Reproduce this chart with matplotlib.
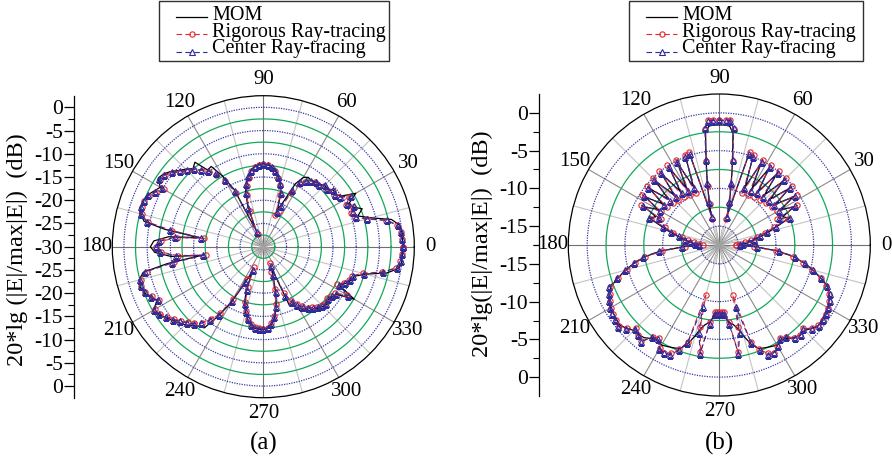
import numpy as np
import matplotlib.pyplot as plt
from matplotlib.lines import Line2D
from matplotlib.patches import Rectangle

plt.rcParams['font.family'] = ['Liberation Serif', 'DejaVu Serif']

W, H = 892, 465

# ---------------- panel (a) data (dB) ----------------
ang_a = [0, 3, 6, 9, 12, 15, 18, 21, 24, 27, 30, 33, 36, 39, 42, 45, 48, 51, 54, 57,
         60, 63, 66, 69, 72, 75, 78, 81, 84, 87, 90, 93, 96, 99, 102, 105, 108, 111, 114, 117,
         120, 123, 126, 129, 132, 135, 138, 141, 144, 147, 150, 153, 156, 159, 162, 165,
         168, 170, 172, 174, 177, 180, 183, 186, 188, 190, 192,
         195, 198, 201, 204, 207, 210, 213, 216, 219, 222, 225, 228, 231, 234, 237, 240,
         243, 246, 249, 252, 255, 258, 261, 264, 267, 270, 273, 276, 279, 282, 285, 288,
         291, 294, 297, 300, 303, 306, 309, 312, 315, 318, 321, 324, 327, 330, 333, 336,
         339, 342, 345, 348, 351, 354, 357]

mom_a = [0.0, 0.0, 0.0, -0.3, -1.8, -6.0, -8.6, -7.2, -9.0, -9.2, -7.0, -10.0, -10.8, -10.6, -11.4, -11.3, -11.9, -12.0, -12.4, -12.2,
         -12.8, -14.8, -19.5, -21.5, -17.6, -15.9, -14.5, -13.4, -12.7, -12.3, -12.2, -12.3, -12.6, -13.3, -14.4, -15.9, -17.6, -20.8, -26.0, -16.2,
         -12.4, -9.4, -9.6, -6.6, -7.4, -6.4, -5.5, -4.3, -3.4, -3.0, -4.4, -3.6, -2.7, -2.3, -2.2, -2.5,
         -3.8, -8.5, -16.0, -9.5, -6.4, -5.7, -6.6, -10.0, -16.5, -9.0, -3.6,
         -2.3, -2.1, -2.5, -3.3, -4.4, -2.6, -3.1, -4.0, -4.8, -5.6, -6.2, -7.2, -8.0, -8.4, -12.2, -16.0,
         -21.0, -24.0, -19.6, -16.8, -15.2, -13.9, -12.9, -12.4, -12.2, -12.1, -12.3, -13.1, -14.5, -16.6, -19.5, -23.0,
         -25.0, -16.0, -16.2, -14.0, -14.2, -13.0, -12.8, -12.2, -11.8, -11.5, -12.0, -11.6, -11.2, -7.4, -11.6, -10.6,
         -9.8, -9.4, -7.2, -2.8, -0.4, 0.0, 0.0]

rig_a = [0.0, -0.1, -0.3, -0.8, -2.9, -7.0, -9.3, -9.8, -8.9, -10.0, -8.6, -10.5, -11.2, -10.8, -11.8, -11.5, -12.3, -12.2, -12.8, -13.4,
         -14.3, -17.0, -21.5, -22.8, -18.2, -16.2, -14.8, -13.6, -12.9, -12.4, -12.3, -12.4, -12.8, -13.6, -14.8, -16.4, -18.4, -21.8, -27.0, -17.0,
         -13.6, -11.5, -10.0, -8.9, -7.8, -6.9, -6.0, -4.8, -3.8, -3.5, -5.2, -4.1, -3.0, -2.6, -2.5, -3.0,
         -4.6, -10.0, -17.2, -11.3, -7.9, -7.0, -8.0, -11.5, -17.6, -10.5, -4.3,
         -2.7, -2.4, -2.8, -3.7, -4.8, -3.0, -3.5, -4.4, -5.2, -6.2, -7.0, -7.8, -9.0, -10.8, -13.0, -17.0,
         -22.3, -25.2, -20.8, -17.5, -15.7, -14.2, -13.1, -12.6, -12.4, -12.3, -12.5, -13.4, -14.9, -17.3, -20.5, -24.3,
         -26.2, -19.2, -17.0, -15.7, -14.7, -13.8, -13.2, -12.6, -12.2, -11.9, -12.4, -12.0, -11.7, -9.2, -12.1, -11.0,
         -10.2, -9.9, -7.8, -3.9, -1.0, -0.4, -0.1]

cen_a = [0.0, -0.1, -0.2, -0.7, -2.7, -6.8, -9.0, -9.4, -8.6, -9.7, -8.3, -10.2, -11.0, -10.6, -11.6, -11.3, -12.1, -12.0, -12.6, -13.1,
         -14.0, -16.3, -20.5, -22.0, -17.8, -16.0, -14.6, -13.5, -12.8, -12.3, -12.2, -12.3, -12.7, -13.4, -14.5, -16.0, -17.8, -21.0, -26.5, -16.5,
         -13.3, -11.2, -9.8, -8.7, -7.6, -6.7, -5.8, -4.6, -3.6, -3.3, -4.9, -3.9, -2.9, -2.5, -2.4, -2.8,
         -4.3, -9.5, -16.5, -10.8, -7.6, -6.8, -7.8, -11.0, -17.0, -10.0, -4.0,
         -2.5, -2.3, -2.7, -3.5, -4.6, -2.8, -3.3, -4.2, -5.0, -6.0, -6.8, -7.6, -8.8, -10.5, -12.6, -16.5,
         -21.5, -24.5, -20.0, -17.0, -15.4, -14.0, -13.0, -12.5, -12.3, -12.2, -12.4, -13.2, -14.6, -16.8, -19.8, -23.5,
         -25.5, -18.5, -16.6, -15.4, -14.5, -13.6, -13.0, -12.4, -12.0, -11.7, -12.2, -11.8, -11.4, -8.9, -11.8, -10.8,
         -10.0, -9.6, -7.5, -3.6, -0.9, -0.3, -0.1]

# ---------------- panel (b) data ----------------
ang_b = [0, 3, 6, 9, 12, 15, 18, 21, 24, 27, 30, 33, 36, 39, 42, 45, 48, 51, 54, 57, 60, 63, 66, 69, 72, 75,
         77, 79, 81, 83, 85, 87, 90, 93, 95, 97, 99, 101, 103,
         105, 108, 111, 114, 117, 120, 123, 126, 129, 132, 135, 138, 141, 144, 147, 150, 153, 156, 159, 162,
         165, 168, 171, 174, 177, 180,
         183, 186, 189, 192, 195, 198, 201, 204, 207, 210, 213, 216, 219, 222, 225, 228, 231, 234, 237, 240,
         243, 246, 249, 252, 255, 257, 260, 263, 266, 268, 270, 272, 274, 277, 280, 283,
         285, 288, 291, 294, 297, 300, 303, 306, 309, 312, 315, 318, 321, 324, 327, 330, 333, 336, 339, 342,
         345, 348, 351, 354, 357]

mom_b = [-14.6, -14.1, -13.4, -12.7, -11.8, -10.7, -9.4, -7.6, -8.3, -6.4, -8.1, -5.9, -8.2, -5.7, -8.4, -5.6, -8.5, -5.5, -8.7, -5.5, -8.8, -5.4, -9.0, -5.3, -5.2, -13.2,
         -11.4, -9.2, -6.4, -2.6, -1.7, -1.6, -1.6, -1.6, -1.7, -2.6, -6.4, -9.2, -11.4,
         -13.2, -5.2, -5.3, -9.0, -5.4, -8.8, -5.5, -8.7, -5.5, -8.5, -5.6, -8.4, -5.7, -8.2, -5.9, -8.1, -6.4, -8.3, -7.6, -9.4,
         -10.7, -11.8, -12.7, -13.4, -14.1, -14.6,
         -12.6, -9.6, -7.5, -6.0, -4.7, -3.4, -2.1, -1.6, -1.2, -0.9, -0.8, -0.7, -0.6, -1.0, -1.5, -1.5, -1.7, -2.2, -2.5, -2.2,
         -2.4, -2.6, -2.8, -3.6, -5.0, -6.0, -6.8, -7.2, -8.2, -7.9, -7.8, -7.9, -8.2, -7.2, -6.8, -6.0,
         -5.0, -3.6, -2.8, -2.6, -2.4, -2.2, -2.5, -2.2, -1.7, -1.5, -1.5, -1.0, -0.6, -0.7, -0.8, -0.9, -1.2, -1.6, -2.1, -3.4,
         -4.7, -6.0, -7.5, -9.6, -12.6]

rig_b = [-15.3, -14.8, -14.1, -13.3, -12.4, -11.2, -9.9, -7.8, -9.1, -5.9, -8.6, -5.3, -8.9, -5.1, -9.2, -5.0, -9.4, -4.9, -9.6, -4.9, -9.8, -4.8, -10.0, -4.7, -4.5, -14.0,
         -11.9, -9.5, -6.3, -2.0, -0.9, -0.9, -0.9, -0.9, -0.9, -2.0, -6.3, -9.5, -11.9,
         -14.0, -4.5, -4.7, -10.0, -4.8, -9.8, -4.9, -9.6, -4.9, -9.4, -5.0, -9.2, -5.1, -8.9, -5.3, -8.6, -5.9, -9.1, -7.8, -9.9,
         -11.2, -12.4, -13.3, -14.1, -14.8, -15.3,
         -12.9, -9.9, -7.6, -6.1, -4.8, -3.4, -2.0, -1.6, -1.2, -0.9, -0.7, -0.6, -0.4, -1.0, -1.9, -1.5, -1.1, -2.5, -2.8, -1.8,
         -1.5, -1.8, -2.7, -4.0, -10.6, -6.3, -3.1, -7.2, -8.6, -8.6, -8.6, -8.6, -8.6, -7.2, -3.1, -6.3,
         -10.6, -4.0, -2.7, -1.8, -1.5, -2.1, -2.8, -2.5, -1.7, -1.5, -1.9, -1.0, -0.6, -0.6, -0.7, -0.9, -1.2, -1.6, -2.3, -3.4,
         -4.8, -6.1, -7.6, -9.9, -12.9]

cen_b = [-14.8, -14.3, -13.6, -12.9, -12.0, -10.9, -9.6, -7.5, -8.8, -6.2, -8.4, -5.6, -8.5, -5.4, -8.7, -5.3, -8.9, -5.2, -9.0, -5.2, -9.2, -5.1, -9.3, -5.0, -4.8, -13.7,
         -11.6, -9.2, -6.1, -1.9, -1.0, -1.0, -1.0, -1.0, -1.0, -1.9, -6.1, -9.2, -11.6,
         -13.7, -4.8, -5.0, -9.3, -5.1, -9.2, -5.2, -9.0, -5.2, -8.9, -5.3, -8.7, -5.4, -8.5, -5.6, -8.4, -6.2, -8.8, -7.5, -9.6,
         -10.9, -12.0, -12.9, -13.6, -14.3, -14.8,
         -12.5, -9.5, -7.3, -5.9, -4.6, -3.3, -1.8, -1.5, -1.1, -0.8, -0.6, -0.5, -0.3, -0.9, -1.8, -1.4, -1.0, -2.4, -2.7, -1.6,
         -1.4, -1.6, -2.6, -3.8, -9.0, -5.5, -2.9, -7.0, -8.4, -8.4, -8.4, -8.4, -8.4, -7.0, -2.9, -5.5,
         -9.0, -3.8, -2.6, -1.6, -1.4, -2.0, -2.7, -2.4, -1.6, -1.4, -1.8, -0.9, -0.5, -0.5, -0.6, -0.8, -1.1, -1.5, -2.2, -3.3,
         -4.6, -5.9, -7.3, -9.5, -12.5]

legend_labels = ['MOM', 'Rigorous Ray-tracing', 'Center Ray-tracing']
theta_labels = ['0', '30', '60', '90', '120', '150', '180', '210', '240', '270', '300', '330']

C_MOM = 'black'
C_RIG = '#e62630'
C_CEN = '#2c2c9e'
C_GREEN = '#12a85a'
C_RING = '#3a3aa8'

fig = plt.figure(figsize=(W / 100, H / 100), dpi=100)


def fx(px):
    return px / W


def fy(py):
    return 1 - py / H


def closed(a):
    return np.append(a, a[0])


def draw_panel(cx, cy, rad, rmin, rmax, ang, mom, rig, cen, axis_x, tick_vals, center_label,
               ylabel, ylabel_xy, caption, leg_x0, leg_x1):
    # polar plot
    ax = fig.add_axes([fx(cx - rad), fy(cy + rad), 2 * rad / W, 2 * rad / H], projection='polar')
    ax.set_ylim(rmin, rmax)
    ax.grid(False)
    tt = np.linspace(0, 2 * np.pi, 721)
    r = rmin + 2.5
    while r < rmax - 0.1:
        if abs(r % 5) < 1e-6:
            ax.plot(tt, np.full_like(tt, r), color=C_RING, ls=(0, (1, 1)), lw=0.9, zorder=1)
        else:
            ax.plot(tt, np.full_like(tt, r), color=C_GREEN, ls='-', lw=0.9, zorder=1)
        r += 2.5
    for a in range(0, 360, 15):
        col = '#707070' if a % 90 == 0 else ('#8a8a8a' if a % 30 == 0 else '#c4c4c4')
        ax.plot([np.radians(a)] * 2, [rmin, rmax], color=col, lw=0.8, zorder=0.5)
    # small star of spokes round the centre
    for a in range(0, 360, 10):
        if a % 15:
            ax.plot([np.radians(a)] * 2, [rmin, rmin + 2.5], color='#a0a0a0', lw=0.5, zorder=0.5)

    th = np.radians(closed(ang))
    ax.plot(th, closed(mom), color=C_MOM, lw=0.9, zorder=3)
    ax.plot(th, closed(rig), color=C_RIG, lw=0.8, ls=(0, (5, 3)), marker='o', ms=3.8,
            mfc='none', mec=C_RIG, mew=0.8, zorder=4)
    ax.plot(th, closed(cen), color=C_CEN, lw=0.8, ls=(0, (5, 3)), marker='^', ms=3.8,
            mfc='none', mec=C_CEN, mew=0.8, zorder=5)

    ax.set_yticks([])
    ax.set_xticks(np.radians(np.arange(0, 360, 30)))
    ax.set_xticklabels(theta_labels, fontsize=15)
    ax.tick_params(axis='x', pad=1)
    ax.spines['polar'].set_linewidth(0.9)

    # linear dB scale on the left
    span = rmax - rmin
    sax = fig.add_axes([fx(axis_x), fy(cy + rad), 0.02, 2 * rad / H])
    sax.set_ylim(-span, span)
    sax.set_xticks([])
    for s in ['top', 'right', 'bottom']:
        sax.spines[s].set_visible(False)
    sax.spines['left'].set_linewidth(0.9)
    sax.patch.set_visible(False)
    pos, lab = [], []
    for v in tick_vals:
        pos += [v - rmin, -(v - rmin)]
        lab += [str(v), str(v)]
    if center_label:
        pos.append(0)
        lab.append(center_label)
    sax.set_yticks(pos)
    sax.set_yticklabels(lab, fontsize=15.5)
    minor = []
    d = 2.5 if center_label else 0.0
    while d < span - 0.1:
        if abs((d + rmin) % 5) > 1e-6:
            minor += [d, -d]
        d += 2.5
    sax.set_yticks(minor, minor=True)
    sax.tick_params(axis='y', which='major', length=7, width=0.9, pad=1)
    sax.tick_params(axis='y', which='minor', length=4, width=0.8)

    fig.text(fx(ylabel_xy[0]), fy(ylabel_xy[1]), ylabel, rotation=90, ha='center', va='center',
             fontsize=17.5)
    fig.text(fx(cx), fy(443), caption, ha='center', va='center', fontsize=18)

    # legend box
    fig.add_artist(Rectangle((fx(leg_x0), fy(61)), fx(leg_x1) - fx(leg_x0), fy(1) - fy(61),
                             transform=fig.transFigure, fill=False, edgecolor='#303030', lw=1.0))
    rows = [(17, 20), (34.5, 37), (52, 53.5)]
    styles = [dict(color=C_MOM, lw=0.9),
              dict(color=C_RIG, lw=0.8, ls=(0, (5, 3)), marker='o', ms=3.8, mfc='none', mec=C_RIG, mew=0.8),
              dict(color=C_CEN, lw=0.8, ls=(0, (5, 3)), marker='^', ms=3.8, mfc='none', mec=C_CEN, mew=0.8)]
    for (yl, yb), st, txt in zip(rows, styles, legend_labels):
        xa, xb = leg_x0 + 17, leg_x0 + 48
        fig.add_artist(Line2D([fx(xa), fx((xa + xb) / 2), fx(xb)], [fy(yl)] * 3,
                              transform=fig.transFigure, markevery=[1], **st))
        fig.text(fx(leg_x0 + 53), fy(yb), txt, ha='left', va='baseline', fontsize=14.5)
    return ax


draw_panel(263.3, 246.7, 151, -30, 2.5, ang_a, mom_a, rig_a, cen_a, 74,
           [0, -5, -10, -15, -20, -25], '-30',
           '20*lg (|E|/max|E|)  (dB)', (17, 249.5), '(a)', 159, 389)

draw_panel(719.3, 245.0, 151, -17.5, 2.5, ang_b, mom_b, rig_b, cen_b, 539,
           [0, -5, -10, -15], None,
           '20*lg(|E|/max|E|)  (dB)', (482.5, 243.5), '(b)', 629, 863)

fig.savefig('out.png', dpi=100)
